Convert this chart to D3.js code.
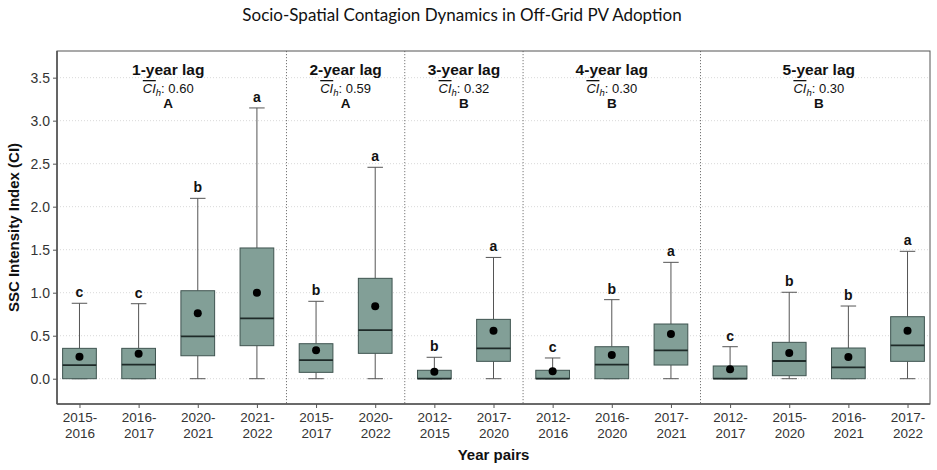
<!DOCTYPE html>
<html>
<head>
<meta charset="utf-8" />
<title>SSC boxplots</title>
<style>
body { margin: 0; background: #fff; }
#graph { width: 937px; height: 470px; }
svg { font-family: "Liberation Sans", Arial, sans-serif; }
.grid line { stroke: #d9d9d9; stroke-dasharray: 1 2; }
.axis path { stroke: #555; }
.axis line { stroke: #555; }
.axis text { fill: #333; font-family: "Liberation Sans", Arial, sans-serif; }
</style>
</head>
<body>
<div id="graph"></div>
<script src="https://cdnjs.cloudflare.com/ajax/libs/d3/7.8.5/d3.min.js"></script>
<script>
// data
var pairs = ["2015-2016","2016-2017","2020-2021","2021-2022",
             "2015-2017","2020-2022",
             "2012-2015","2017-2020",
             "2012-2016","2016-2020","2017-2021",
             "2012-2017","2015-2020","2016-2021","2017-2022"]
var lagOf  = [1,1,1,1, 2,2, 3,3, 4,4,4, 5,5,5,5]
var whiskLo = [0,0,0,0, 0,0, 0,0, 0,0,0, 0,0,0,0]
var q1      = [0,0,0.267,0.384, 0.074,0.295, 0,0.202, 0,0,0.159, 0,0.035,0,0.202]
var median  = [0.159,0.163,0.493,0.702, 0.217,0.566, 0,0.353, 0,0.163,0.33, 0,0.206,0.132,0.388]
var q3      = [0.353,0.353,1.023,1.52, 0.407,1.167, 0.098,0.69, 0.098,0.372,0.636, 0.148,0.423,0.357,0.721]
var whiskHi = [0.877,0.872,2.097,3.148, 0.9,2.458, 0.249,1.41, 0.241,0.919,1.353, 0.372,1.005,0.845,1.481]
var means   = [0.256,0.291,0.76,1.0, 0.33,0.842, 0.082,0.558, 0.086,0.276,0.52, 0.109,0.299,0.252,0.558]
var letters = ["c","c","b","a", "b","a", "b","a", "c","b","a", "c","b","b","a"]

var lags     = [1,2,3,4,5]
var lagNames = ["1-year lag","2-year lag","3-year lag","4-year lag","5-year lag"]
var lagCI    = ["0.60","0.59","0.32","0.30","0.30"]
var lagGroup = ["A","A","B","B","B"]
var yTicks   = [0,0.5,1,1.5,2,2.5,3,3.5]

!(function(){
    "use strict"
    var width = 937, height = 470
    var margin = {top:51, left:57, bottom:66, right:7}
    var chartWidth = width - margin.left - margin.right
    var chartHeight = height - margin.top - margin.bottom

    var svg = d3.select("#graph").append("svg").attr("width", width).attr("height", height)
    var g = svg.append("g").attr("transform", "translate(" + [margin.left, margin.top] + ")")

    var data = pairs.map(function(p, i){
        return {key: p + "|" + lagOf[i], label: p, lag: lagOf[i], lo: whiskLo[i], q1: q1[i],
                med: median[i], q3: q3[i], hi: whiskHi[i], mean: means[i], letter: letters[i]}
    })

    var x = d3.scalePoint().domain(data.map(function(d){ return d.key }))
        .range([0, chartWidth]).padding(0.38)
    var y = d3.scaleLinear().domain([-0.294, 3.81]).range([chartHeight, 0])
    var step = x.step()
    var boxW = step * 0.57
    var capW = boxW * 0.46

    // grid
    g.append("g").attr("class", "grid")
        .selectAll("line").data(yTicks).enter().append("line")
        .attr("x1", 0).attr("x2", chartWidth)
        .attr("y1", function(d){ return y(d) }).attr("y2", function(d){ return y(d) })

    // separators between lags
    var seps = lags.slice(1).map(function(l){
        var first = data.filter(function(d){ return d.lag === l })[0]
        return x(first.key) - step / 2
    })
    g.selectAll(".sep").data(seps).enter().append("line").attr("class", "sep")
        .attr("x1", function(d){ return d }).attr("x2", function(d){ return d })
        .attr("y1", 0).attr("y2", chartHeight)
        .attr("stroke", "#777").attr("stroke-width", 1).attr("stroke-dasharray", "1.2 1.8")

    // boxes
    var box = g.selectAll(".box").data(data).enter().append("g").attr("class", "box")
        .attr("transform", function(d){ return "translate(" + x(d.key) + ",0)" })

    box.append("line").attr("x1", 0).attr("x2", 0)
        .attr("y1", function(d){ return y(d.q3) }).attr("y2", function(d){ return y(d.hi) })
        .attr("stroke", "#555")
    box.append("line").attr("x1", 0).attr("x2", 0)
        .attr("y1", function(d){ return y(d.q1) }).attr("y2", function(d){ return y(d.lo) })
        .attr("stroke", "#555")
    box.append("line").attr("x1", -capW/2).attr("x2", capW/2)
        .attr("y1", function(d){ return y(d.hi) }).attr("y2", function(d){ return y(d.hi) })
        .attr("stroke", "#555")
    box.append("line").attr("x1", -capW/2).attr("x2", capW/2)
        .attr("y1", function(d){ return y(d.lo) }).attr("y2", function(d){ return y(d.lo) })
        .attr("stroke", "#555")
    box.append("rect")
        .attr("x", -boxW/2).attr("width", boxW)
        .attr("y", function(d){ return y(d.q3) })
        .attr("height", function(d){ return y(d.q1) - y(d.q3) })
        .attr("fill", "#829f97").attr("stroke", "#3f5450").attr("stroke-width", 1)
    box.append("line").attr("x1", -boxW/2).attr("x2", boxW/2)
        .attr("y1", function(d){ return y(d.med) }).attr("y2", function(d){ return y(d.med) })
        .attr("stroke", "#1e2a28").attr("stroke-width", 1.8)
    box.append("circle").attr("cx", 0).attr("cy", function(d){ return y(d.mean) })
        .attr("r", 4).attr("fill", "#000")
    box.append("text").attr("x", 0).attr("y", function(d){ return y(d.hi) - 6 })
        .attr("text-anchor", "middle").attr("font-weight", "bold").attr("font-size", "14px")
        .attr("fill", "#111").text(function(d){ return d.letter })

    // lag headers
    var hdr = g.selectAll(".hdr").data(lags).enter().append("g").attr("class", "hdr")
        .attr("transform", function(l){
            var ks = data.filter(function(d){ return d.lag === l })
            var cx = (x(ks[0].key) + x(ks[ks.length-1].key)) / 2
            return "translate(" + cx + ",0)"
        })
    hdr.append("text").attr("y", 24).attr("text-anchor", "middle")
        .attr("font-weight", "bold").attr("font-size", "15.5px").attr("fill", "#111")
        .text(function(l, i){ return lagNames[i] })
    var ci = hdr.append("text").attr("y", 42).attr("text-anchor", "middle")
        .attr("font-size", "13px").attr("fill", "#111")
    ci.append("tspan").attr("font-style", "italic").style("text-decoration", "overline").text("CI")
    ci.append("tspan").attr("font-style", "italic").attr("font-size", "9.5px").attr("dy", 3).text("h")
    ci.append("tspan").attr("dy", -3).text(function(l, i){ return ": " + lagCI[i] })
    hdr.append("text").attr("y", 57).attr("text-anchor", "middle")
        .attr("font-weight", "bold").attr("font-size", "13.5px").attr("fill", "#111")
        .text(function(l, i){ return lagGroup[i] })

    // axes
    var yAxis = d3.axisLeft(y).tickValues(yTicks).tickSize(4).tickFormat(d3.format(".1f"))
    var ya = g.append("g").attr("class", "axis").call(yAxis)
    ya.select(".domain").remove()
    ya.selectAll(".tick text").attr("font-size", "14px").attr("fill", "#333")

    var xAxis = d3.axisBottom(x).tickSize(4).tickFormat(function(){ return "" })
    var xa = g.append("g").attr("class", "axis").attr("transform", "translate(0," + chartHeight + ")").call(xAxis)
    xa.select(".domain").remove()
    xa.selectAll(".tick text").attr("font-size", "13.5px").attr("fill", "#222").each(function(k){
        var lab = k.split("|")[0].split("-")
        var t = d3.select(this).attr("dy", null).attr("y", 18)
        t.append("tspan").attr("x", 0).text(lab[0] + "-")
        t.append("tspan").attr("x", 0).attr("dy", 16).text(lab[1])
    })

    // panel border
    g.append("rect").attr("width", chartWidth).attr("height", chartHeight)
        .attr("fill", "none").attr("stroke", "#555").attr("stroke-width", 1)
    g.append("line").attr("x1", 0).attr("x2", 0).attr("y1", 0).attr("y2", chartHeight)
        .attr("stroke", "#555").attr("stroke-width", 1.6)
    g.append("line").attr("x1", 0).attr("x2", chartWidth).attr("y1", chartHeight).attr("y2", chartHeight)
        .attr("stroke", "#555").attr("stroke-width", 1.6)

    // titles
    svg.append("text").attr("x", 462).attr("y", 21).attr("text-anchor", "middle")
        .attr("font-family", "Lato, 'Open Sans', sans-serif").attr("font-weight", 400)
        .attr("font-size", "17px").attr("fill", "#111")
        .text("Socio-Spatial Contagion Dynamics in Off-Grid PV Adoption")
    svg.append("text").attr("x", margin.left + chartWidth / 2).attr("y", 460).attr("text-anchor", "middle")
        .attr("font-weight", "bold").attr("font-size", "15px").attr("fill", "#111").text("Year pairs")
    svg.append("text").attr("transform", "translate(19," + (margin.top + chartHeight / 2) + ") rotate(-90)")
        .attr("text-anchor", "middle").attr("font-weight", "bold").attr("font-size", "15px")
        .attr("fill", "#111").text("SSC Intensity Index (CI)")
}());
</script>
</body>
</html>
